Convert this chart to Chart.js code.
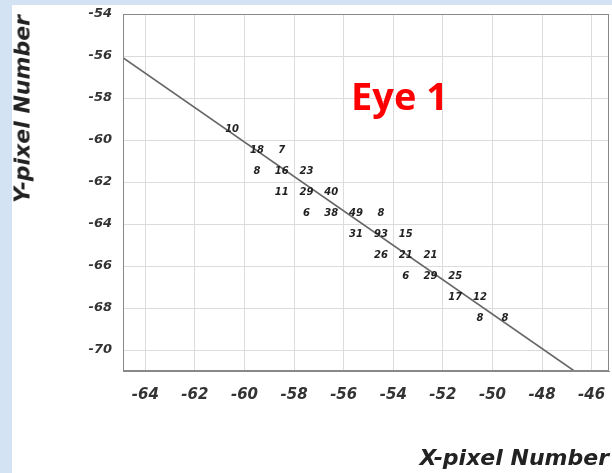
<!DOCTYPE html>
<html>
<head>
<meta charset="utf-8">
<script src="https://cdn.jsdelivr.net/npm/chart.js@4"></script>
<style>
	html, body { margin: 0; padding: 0; }
	body { width: 612px; height: 473px; background: #d3e3f4; position: relative; overflow: hidden; }
	#panel { position: absolute; left: 12px; top: 5px; width: 600px; height: 468px; background: #fff; }
	#chart { position: absolute; left: 0; top: 0; }
	.axis-title { position: absolute; font-family: 'DejaVu Sans', sans-serif; font-weight: bold; font-style: italic; font-size: 22px; color: #222; white-space: nowrap; }
	#ytitle { left: 22px; top: 109px; transform: translate(-50%, -50%) rotate(-90deg); }
	#xtitle { right: 3px; top: 445px; }
	#eye { position: absolute; left: 351px; top: 76px; font-family: 'Open Sans', sans-serif; font-weight: bold; font-size: 38px; color: #ff0000; line-height: 1; }
</style>
</head>
<body>
<div id="panel"></div>
<canvas id="chart" width="612" height="473"></canvas>
<div class="axis-title" id="ytitle">Y-pixel Number</div>
<div class="axis-title" id="xtitle">X-pixel Number</div>
<div id="eye">Eye 1</div>
<script>
// tick values
const xTicks = [-64, -62, -60, -58, -56, -54, -52, -50, -48, -46]
const yTicks = [-54, -56, -58, -60, -62, -64, -66, -68, -70]

// fitted track
const fitX = [-65, -46.7]
const fitY = [-56.0, -71]

// hit pixels with their counts
const cellX = [-60.5, -59.5, -58.5, -59.5, -58.5, -57.5, -58.5, -57.5, -56.5, -57.5, -56.5, -55.5, -54.5,
	-55.5, -54.5, -53.5, -54.5, -53.5, -52.5, -53.5, -52.5, -51.5, -51.5, -50.5, -50.5, -49.5]
const cellY = [-59.5, -60.5, -60.5, -61.5, -61.5, -61.5, -62.5, -62.5, -62.5, -63.5, -63.5, -63.5, -63.5,
	-64.5, -64.5, -64.5, -65.5, -65.5, -65.5, -66.5, -66.5, -66.5, -67.5, -67.5, -68.5, -68.5]
const counts = ['10', '18', '7', '8', '16', '23', '11', '29', '40', '6', '38', '49', '8',
	'31', '93', '15', '26', '21', '21', '6', '29', '25', '17', '12', '8', '8']

const tickFont = (size) => ({ family: 'DejaVu Sans', size: size, style: 'italic', weight: 'bold' })

const countLabels = {
	id: 'countLabels',
	afterDatasetsDraw(chart) {
		const { ctx, scales, chartArea } = chart
		ctx.save()
		ctx.font = 'italic bold 10px "DejaVu Sans"'
		ctx.fillStyle = '#222'
		ctx.textAlign = 'center'
		ctx.textBaseline = 'middle'
		counts.forEach((c, i) => {
			ctx.fillText(c, scales.x.getPixelForValue(cellX[i]), scales.y.getPixelForValue(cellY[i]))
		})
		// frame round the plot
		ctx.strokeStyle = '#888'
		ctx.lineWidth = 1
		ctx.strokeRect(chartArea.left + 0.5, chartArea.top + 0.5, chartArea.width - 1, chartArea.height - 1)
		ctx.restore()
	},
}

new Chart(document.getElementById('chart'), {
	type: 'scatter',
	data: {
		datasets: [
			{
				data: fitX.map((x, i) => ({ x: x, y: fitY[i] })),
				showLine: true,
				borderColor: '#666',
				borderWidth: 1.6,
				pointRadius: 0,
			},
		],
	},
	options: {
		responsive: false,
		animation: false,
		layout: { padding: { top: 14, right: 3, left: 0, bottom: 0 } },
		plugins: { legend: { display: false }, tooltip: { enabled: false } },
		scales: {
			x: {
				min: -64.9,
				max: -45.3,
				afterBuildTicks: (s) => { s.ticks = xTicks.map((v) => ({ value: v })) },
				afterFit: (s) => { s.height = 102; s.paddingLeft = 0; s.paddingRight = 0 },
				grid: { color: '#dcdcdc', drawTicks: false },
				border: { color: '#888' },
				ticks: { font: tickFont(15), color: '#333', padding: 15, maxRotation: 0 },
			},
			y: {
				min: -71,
				max: -54,
				afterBuildTicks: (s) => { s.ticks = yTicks.map((v) => ({ value: v })) },
				afterFit: (s) => { s.width = 123; s.paddingTop = 0; s.paddingBottom = 0 },
				grid: { color: '#dcdcdc', drawTicks: false },
				border: { color: '#888' },
				ticks: { font: tickFont(13), color: '#333', padding: 11 },
			},
		},
	},
	plugins: [countLabels],
})
</script>
</body>
</html>
